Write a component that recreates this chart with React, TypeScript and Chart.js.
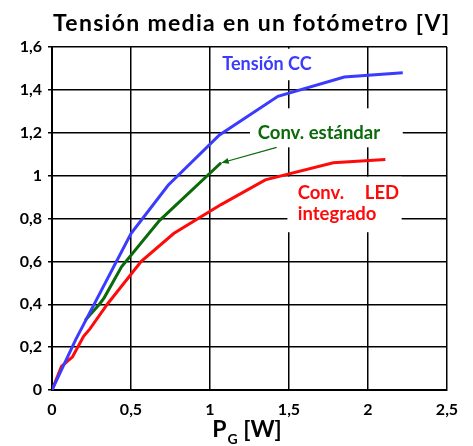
import React, { useEffect, useRef } from "react";
import { Chart, registerables } from "chart.js";

Chart.register(...registerables);

// ---- Data ----
const tensionCC_x = [0, 0.15, 0.5, 0.735, 1.06, 1.43, 1.85, 2.22];
const tensionCC_y = [0, 0.235, 0.73, 0.955, 1.19, 1.37, 1.46, 1.48];

const convEstandar_x = [0.21, 0.3, 0.33, 0.44, 0.68, 1.07];
const convEstandar_y = [0.325, 0.4, 0.43, 0.575, 0.79, 1.06];

const convLED_x = [0, 0.06, 0.13, 0.2, 0.24, 0.35, 0.565, 0.77, 1.07, 1.35, 1.78, 2.11];
const convLED_y = [0, 0.11, 0.155, 0.25, 0.285, 0.4, 0.6, 0.73, 0.865, 0.98, 1.06, 1.075];

const xTicks = [0, 0.5, 1, 1.5, 2, 2.5];
const yTicks = [0, 0.2, 0.4, 0.6, 0.8, 1, 1.2, 1.4, 1.6];

const titleText = "Tensión media en un fotómetro [V]";
const labelCC = "Tensión CC";
const labelEst = "Conv. estándar";
const labelLED1a = "Conv.";
const labelLED1b = "LED";
const labelLED2 = "integrado";

const BLUE = "#3b3bff";
const GREEN = "#0a6a0a";
const RED = "#ff0a0a";
const FONT = "Lato, 'Open Sans', sans-serif";

const toPoints = (xs: number[], ys: number[]) => xs.map((x, i) => ({ x, y: ys[i] }));
const fmt = (v: number) => String(Math.round(v * 10) / 10).replace(".", ",");

const overlayPlugin = {
  id: "overlay",
  beforeDatasetsDraw(chart: any) {
    const { ctx, scales } = chart;
    const X = (v: number) => scales.x.getPixelForValue(v);
    const Y = (v: number) => scales.y.getPixelForValue(v);
    const box = (x0: number, x1: number, y0: number, y1: number) => {
      ctx.fillStyle = "#ffffff";
      ctx.fillRect(X(x0), Y(y1), X(x1) - X(x0), Y(y0) - Y(y1));
    };
    ctx.save();
    box(1.03, 1.6, 1.445, 1.592);
    box(1.253, 2.22, 1.132, 1.314);
    box(1.49, 2.213, 0.736, 0.995);

    ctx.font = `bold 18px ${FONT}`;
    ctx.textBaseline = "alphabetic";
    ctx.textAlign = "left";
    ctx.fillStyle = BLUE;
    ctx.fillText(labelCC, X(1.078), Y(1.491));
    ctx.font = `bold 18.5px ${FONT}`;
    ctx.fillStyle = GREEN;
    ctx.fillText(labelEst, X(1.302), Y(1.173));
    ctx.fillStyle = RED;
    ctx.fillText(labelLED1a, X(1.555), Y(0.893));
    ctx.fillText(labelLED1b, X(1.98), Y(0.893));
    ctx.fillText(labelLED2, X(1.555), Y(0.792));
    ctx.restore();
  },
  afterDatasetsDraw(chart: any) {
    const { ctx, scales } = chart;
    const X = (v: number) => scales.x.getPixelForValue(v);
    const Y = (v: number) => scales.y.getPixelForValue(v);
    // arrow
    const x0 = X(1.422), y0 = Y(1.132), x1 = X(1.074), y1 = Y(1.06);
    ctx.save();
    ctx.strokeStyle = GREEN;
    ctx.fillStyle = GREEN;
    ctx.lineWidth = 1.2;
    ctx.beginPath();
    ctx.moveTo(x0, y0);
    ctx.lineTo(x1, y1);
    ctx.stroke();
    const ang = Math.atan2(y1 - y0, x1 - x0);
    const L = 7, W = 3;
    ctx.beginPath();
    ctx.moveTo(x1, y1);
    ctx.lineTo(x1 - L * Math.cos(ang) + W * Math.sin(ang), y1 - L * Math.sin(ang) - W * Math.cos(ang));
    ctx.lineTo(x1 - L * Math.cos(ang) - W * Math.sin(ang), y1 - L * Math.sin(ang) + W * Math.cos(ang));
    ctx.closePath();
    ctx.fill();
    ctx.restore();
  },
  afterDraw(chart: any) {
    const { ctx, chartArea } = chart;
    ctx.save();
    ctx.fillStyle = "#000";
    // title
    ctx.font = `bold 23px ${FONT}`;
    (ctx as any).letterSpacing = "1.3px";
    ctx.textAlign = "left";
    ctx.textBaseline = "alphabetic";
    ctx.fillText(titleText, 53, 31);
    (ctx as any).letterSpacing = "0px";
    // x axis title P_G [W]
    const cx = (chartArea.left + chartArea.right) / 2;
    ctx.font = `bold 23px ${FONT}`;
    const wP = ctx.measureText("P").width;
    const wRest = ctx.measureText(" [W]").width;
    ctx.font = `bold 14px ${FONT}`;
    const wG = ctx.measureText("G").width;
    const total = wP + wG + wRest;
    let x = cx - total / 2 - 3;
    ctx.textAlign = "left";
    ctx.font = `bold 23px ${FONT}`;
    ctx.fillText("P", x, 437);
    x += wP;
    ctx.font = `bold 14px ${FONT}`;
    ctx.fillText("G", x + 1, 444);
    x += wG + 1;
    ctx.font = `bold 23px ${FONT}`;
    ctx.fillText(" [W]", x, 437);
    ctx.restore();
  },
};

export default function App() {
  const ref = useRef<HTMLCanvasElement | null>(null);

  useEffect(() => {
    document.body.style.margin = "0";
    const canvas = ref.current;
    if (!canvas) return;
    const chart = new Chart(canvas, {
      type: "line",
      data: {
        datasets: [
          {
            label: labelCC,
            data: toPoints(tensionCC_x, tensionCC_y),
            borderColor: BLUE,
            borderWidth: 3,
            pointRadius: 0,
            tension: 0,
          },
          {
            label: labelEst,
            data: toPoints(convEstandar_x, convEstandar_y),
            borderColor: GREEN,
            borderWidth: 3,
            pointRadius: 0,
            tension: 0,
          },
          {
            label: "Conv. LED integrado",
            data: toPoints(convLED_x, convLED_y),
            borderColor: RED,
            borderWidth: 3,
            pointRadius: 0,
            tension: 0,
          },
        ],
      },
      options: {
        animation: false,
        responsive: false,
        layout: { padding: { top: 47, right: 26, left: 0, bottom: 0 } },
        plugins: {
          legend: { display: false },
          title: { display: false },
          tooltip: { enabled: false },
        },
        scales: {
          x: {
            type: "linear",
            min: 0,
            max: 2.5,
            afterBuildTicks: (scale: any) => {
              scale.ticks = xTicks.map((v) => ({ value: v }));
            },
            afterFit: (scale: any) => {
              scale.height = 56;
            },
            grid: { color: "#000", lineWidth: 1.5, drawTicks: false },
            border: { color: "#000", width: 2 },
            ticks: {
              color: "#000",
              font: { family: FONT, weight: "bold", size: 16 },
              padding: 10,
              maxRotation: 0,
              callback: (v: any) => fmt(Number(v)),
            },
          },
          y: {
            type: "linear",
            min: 0,
            max: 1.6,
            afterBuildTicks: (scale: any) => {
              scale.ticks = yTicks.map((v) => ({ value: v }));
            },
            afterFit: (scale: any) => {
              scale.width = 52;
            },
            grid: { color: "#000", lineWidth: 1.5, tickLength: 4 },
            border: { color: "#000", width: 2 },
            ticks: {
              color: "#000",
              font: { family: FONT, weight: "bold", size: 16 },
              padding: 6,
              callback: (v: any) => fmt(Number(v)),
            },
          },
        },
      } as any,
      plugins: [overlayPlugin],
    });
    return () => chart.destroy();
  }, []);

  return (
    <div style={{ width: 473, height: 446, background: "#fff" }}>
      <canvas ref={ref} width={473} height={446} style={{ width: 473, height: 446, display: "block" }} />
    </div>
  );
}
